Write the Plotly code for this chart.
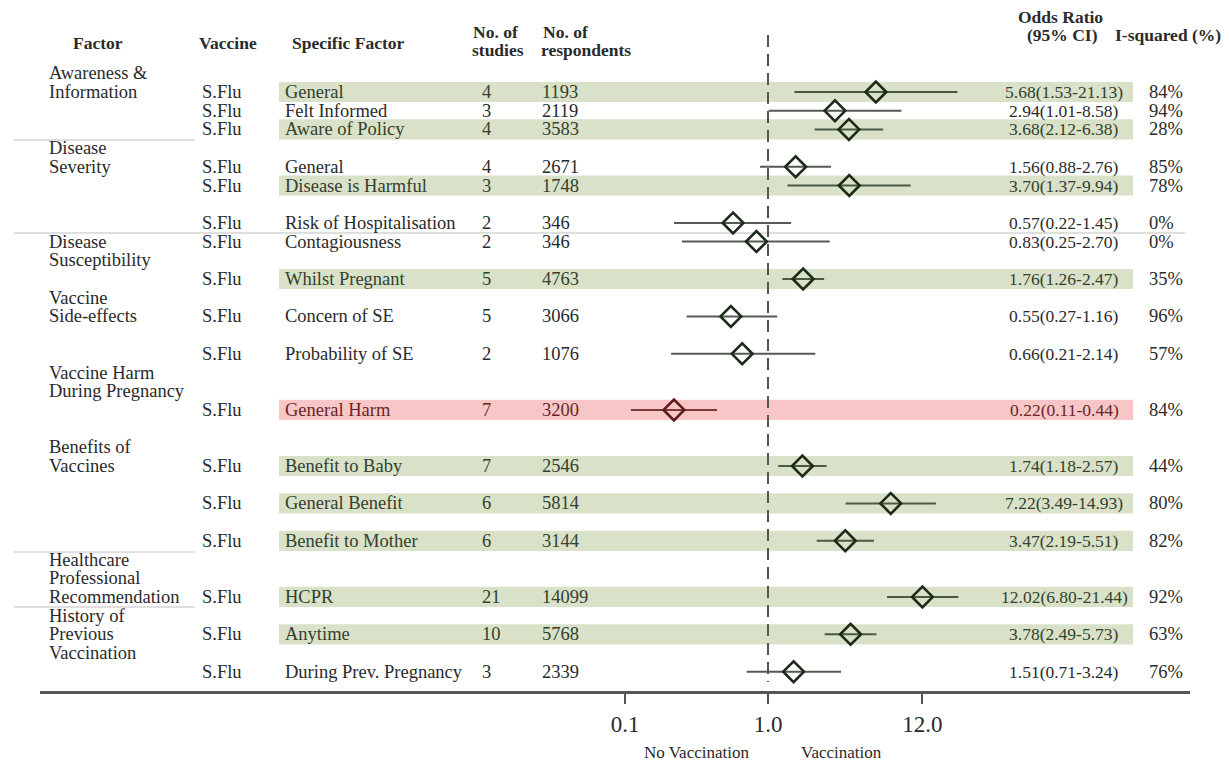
import plotly.graph_objects as go

# ---------------- data ----------------
vaccine = ["S.Flu"] * 17
specific = ["General", "Felt Informed", "Aware of Policy", "General", "Disease is Harmful",
            "Risk of Hospitalisation", "Contagiousness", "Whilst Pregnant", "Concern of SE",
            "Probability of SE", "General Harm", "Benefit to Baby", "General Benefit",
            "Benefit to Mother", "HCPR", "Anytime", "During Prev. Pregnancy"]
studies = [4, 3, 4, 4, 3, 2, 2, 5, 5, 2, 7, 7, 6, 6, 21, 10, 3]
respondents = [1193, 2119, 3583, 2671, 1748, 346, 346, 4763, 3066, 1076, 3200, 2546, 5814,
               3144, 14099, 5768, 2339]
odds = [5.68, 2.94, 3.68, 1.56, 3.70, 0.57, 0.83, 1.76, 0.55, 0.66, 0.22, 1.74, 7.22, 3.47,
        12.02, 3.78, 1.51]
ci_lo = [1.53, 1.01, 2.12, 0.88, 1.37, 0.22, 0.25, 1.26, 0.27, 0.21, 0.11, 1.18, 3.49, 2.19,
         6.80, 2.49, 0.71]
ci_hi = [21.13, 8.58, 6.38, 2.76, 9.94, 1.45, 2.70, 2.47, 1.16, 2.14, 0.44, 2.57, 14.93, 5.51,
         21.44, 5.73, 3.24]
i_squared = [84, 94, 28, 85, 78, 0, 0, 35, 96, 57, 84, 44, 80, 82, 92, 63, 76]
highlight = ["green", "", "green", "", "green", "", "", "green", "", "", "red", "green",
             "green", "green", "green", "green", ""]

factors = ["Awareness &<br>Information", "Disease<br>Severity", "Disease<br>Susceptibility",
           "Vaccine<br>Side-effects", "Vaccine Harm<br>During Pregnancy",
           "Benefits of<br>Vaccines", "Healthcare<br>Professional<br>Recommendation",
           "History of<br>Previous<br>Vaccination"]

tick_vals = [0.1, 1, 12]
tick_text = ["0.1", "1.0", "12.0"]

# ---------------- layout helpers ----------------
OFF = 8                      # page body margin of the html page
FW, FH = 1229 - OFF, 764 - OFF
PLOT_H = 691                 # reference pixel of axis line
PH = PLOT_H - OFF            # plot height in figure pixels
ROW0, ROWH = 92, 18.7        # reference pixel of first row, pixels per slot
row_slot = [0, 1, 2, 4, 5, 7, 8, 10, 12, 14, 17, 20, 22, 24, 27, 29, 31]
factor_slot = [-1, 3, 8, 11, 15, 19, 25, 28]


def px_x(p):
    return (p - OFF) / FW


def px_y(p):
    return 1 - (p - OFF) / PH


def slot_of(p):
    return (p - ROW0) / ROWH


PPD = 143.0  # pixels per decade
X_ONE = 768
x_range = [(40 - X_ONE) / PPD, (1190 - X_ONE) / PPD]
y_range = [slot_of(PLOT_H), slot_of(OFF)]

FONT = "Liberation Serif"
TXT = "#2a2a2a"
band_fill = {"green": "#d9e2c8", "red": "#f8c6c6"}
band_txt = {"green": "#33402e", "red": "#6a2626", "": TXT}
BODY = 18.5
HEAD = 17.5

fig = go.Figure()

shapes = []
for s, h in zip(row_slot, highlight):
    if h:
        shapes.append(dict(type="rect", xref="paper", yref="y", x0=px_x(279), x1=px_x(1133),
                           y0=s - 0.54, y1=s + 0.54, fillcolor=band_fill[h], line_width=0,
                           layer="below"))
for p, xe in [(140, 195), (233, 1185), (552, 195), (607, 195)]:
    shapes.append(dict(type="line", xref="paper", yref="paper", x0=px_x(14), x1=px_x(xe),
                       y0=px_y(p), y1=px_y(p), line=dict(color="#d4d4d4", width=1.5),
                       layer="below"))

# reference line at OR = 1
fig.add_trace(go.Scatter(x=[1, 1], y=[slot_of(35), slot_of(682)], mode="lines",
                         line=dict(color="#555555", width=2, dash="12px,7px"),
                         hoverinfo="skip", showlegend=False))

# confidence intervals
for h_type, col in [("", "#555a52"), ("green", "#4a5846"), ("red", "#7a3a3a")]:
    xs, ys = [], []
    for lo, hi, s, h in zip(ci_lo, ci_hi, row_slot, highlight):
        if h == h_type:
            xs += [lo, hi, None]
            ys += [s, s, None]
    fig.add_trace(go.Scatter(x=xs, y=ys, mode="lines", line=dict(color=col, width=2),
                             hoverinfo="skip", showlegend=False))

# point estimates
fig.add_trace(go.Scatter(
    x=odds, y=row_slot, mode="markers",
    marker=dict(symbol="diamond-open", size=16,
                color=["#5e1a1a" if h == "red" else "#1c2a1a" for h in highlight],
                line=dict(width=2.6)),
    showlegend=False))

ann = []


def add(text, x, y, yref="y", anchor="left", size=BODY, bold=False, color=TXT):
    ann.append(dict(text=f"<b>{text}</b>" if bold else text, x=x, y=y, xref="paper", yref=yref,
                    xanchor=anchor, yanchor="middle", showarrow=False, borderpad=0,
                    font=dict(family=FONT, size=size, color=color)))


# headers
add("Factor", px_x(98), px_y(43), "paper", "center", HEAD, True)
add("Vaccine", px_x(198), px_y(43), "paper", "left", HEAD, True)
add("Specific Factor", px_x(291), px_y(43), "paper", "left", HEAD, True)
add("No. of", px_x(472), px_y(32), "paper", "left", HEAD, True)
add("studies", px_x(471), px_y(50), "paper", "left", HEAD, True)
add("No. of", px_x(542), px_y(32), "paper", "left", HEAD, True)
add("respondents", px_x(540), px_y(50), "paper", "left", HEAD, True)
add("Odds Ratio", px_x(1060), px_y(17), "paper", "center", HEAD, True)
add("(95% CI)", px_x(1062), px_y(35), "paper", "center", HEAD, True)
add("I-squared (%)", px_x(1168), px_y(35), "paper", "center", HEAD, True)

# factor labels
for lab, s0 in zip(factors, factor_slot):
    for i, line in enumerate(lab.split("<br>")):
        add(line, px_x(48), s0 + i, "y", "left")

# row texts
for i, s in enumerate(row_slot):
    c = band_txt[highlight[i]]
    add(vaccine[i], px_x(201), s, "y", "left")
    add(specific[i], px_x(284), s, "y", "left", color=c)
    add(str(studies[i]), px_x(481), s, "y", "left", color=c)
    add(str(respondents[i]), px_x(541), s, "y", "left", color=c)
    add(f"{odds[i]:.2f}({ci_lo[i]:.2f}-{ci_hi[i]:.2f})", px_x(1064), s, "y", "center", 17.5,
        color=c)
    add(f"{i_squared[i]}%", px_x(1148), s, "y", "left")

# direction labels
add("No Vaccination", px_x(696), px_y(752), "paper", "center", 17)
add("Vaccination", px_x(841), px_y(752), "paper", "center", 17)

fig.update_layout(
    width=FW, height=FH, margin=dict(l=0, r=0, t=0, b=FH - PH),
    paper_bgcolor="white", plot_bgcolor="white",
    shapes=shapes, annotations=ann, showlegend=False,
    xaxis=dict(type="log", range=x_range, domain=[px_x(40), px_x(1190)],
               tickvals=tick_vals, ticktext=tick_text, ticks="outside", ticklen=10,
               tickwidth=2, tickcolor="#555555", showline=True, linecolor="#555555",
               linewidth=3, showgrid=False, zeroline=False,
               tickfont=dict(family=FONT, size=23, color=TXT)),
    yaxis=dict(range=y_range, visible=False, showgrid=False, zeroline=False),
)

fig.write_html("out.html")
